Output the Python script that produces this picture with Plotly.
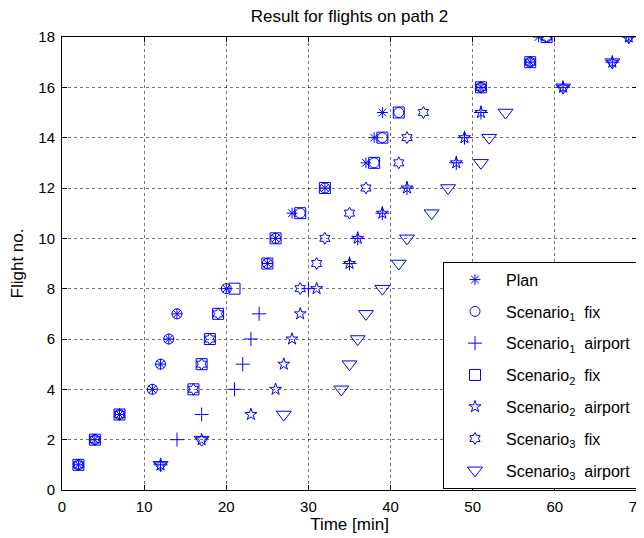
import plotly.graph_objects as go

flights = list(range(1, 19))
plan = [2, 4, 7, 11, 12, 13, 14, 20, 25, 26, 28, 32, 37, 38, 39, 51, 57, 58]
s1_fix = [2, 4, 7, 11, 12, 13, 14, 20, 25, 26, 29, 32, 38, 39, 41, 51, 57, 59]
s1_airport = [12, 14, 17, 21, 22, 23, 24, 30, 35, 36, 39, 42, 48, 49, 51, 61, 67, 69]
s2_fix = [2, 4, 7, 16, 17, 18, 19, 21, 25, 26, 29, 32, 38, 39, 41, 51, 57, 59]
s2_airport = [12, 17, 23, 26, 27, 28, 29, 31, 35, 36, 39, 42, 48, 49, 51, 61, 67, 69]
s3_fix = [2, 4, 7, 16, 17, 18, 19, 29, 31, 32, 35, 37, 41, 42, 44, 51, 57, 59]
s3_airport = [12, 17, 27, 34, 35, 36, 37, 39, 41, 42, 45, 47, 51, 52, 54, 61, 67, 69]

x_ticks = [0, 10, 20, 30, 40, 50, 60, 70]
y_ticks = [0, 2, 4, 6, 8, 10, 12, 14, 16, 18]

NB = "\u00a0\u00a0"
series = [
    ("Plan", plan, "asterisk-open", 9),
    ("Scenario<sub>1</sub>" + NB + "fix", s1_fix, "circle-open", 10),
    ("Scenario<sub>1</sub>" + NB + "airport", s1_airport, "cross-thin-open", 10),
    ("Scenario<sub>2</sub>" + NB + "fix", s2_fix, "square-open", 11),
    ("Scenario<sub>2</sub>" + NB + "airport", s2_airport, "star-open", 9),
    ("Scenario<sub>3</sub>" + NB + "fix", s3_fix, "hexagram-open", 9),
    ("Scenario<sub>3</sub>" + NB + "airport", s3_airport, "triangle-down-open", 13),
]

fig = go.Figure()
for i, (name, xs, sym, sz) in enumerate(series):
    fig.add_trace(go.Scatter(
        x=xs, y=flights, mode="markers", name=name,
        legendgroup=f"g{i}",
        marker=dict(symbol=sym, size=sz, color="rgb(0,0,255)",
                    line=dict(color="rgb(0,0,255)", width=1)),
    ))

axis_common = dict(
    showline=True, linecolor="black", linewidth=1, mirror="ticks",
    ticks="inside", ticklen=5, tickcolor="black",
    showgrid=True, gridcolor="rgba(0,0,0,0.55)", griddash="dot", gridwidth=1,
    zeroline=False, tickfont=dict(size=15, color="black"), automargin=False,
    ticklabelstandoff=3, ticklabeloverflow="allow",
)

fig.update_layout(
    width=636, height=530,
    margin=dict(l=54, r=7, t=29, b=48),
    paper_bgcolor="white", plot_bgcolor="white",
    font=dict(family="Liberation Sans, Arial, sans-serif", color="black", size=15),
    title=dict(text="Result for flights on path 2", x=0.5, xref="paper", xanchor="center",
               y=0.985, yref="container", yanchor="middle", font=dict(size=17)),
    xaxis=dict(range=[0, 70], tickvals=x_ticks,
               title=dict(text="Time [min]", standoff=0, font=dict(size=17)), **axis_common),
    yaxis=dict(range=[0, 18], tickvals=y_ticks,
               title=dict(text="Flight no.", standoff=10, font=dict(size=17)), **axis_common),
    legend=dict(x=1.0, xanchor="right", y=0.003, yanchor="bottom",
                bgcolor="white", bordercolor="black", borderwidth=1,
                font=dict(size=16), tracegroupgap=8, itemwidth=52),
    showlegend=True,
)

fig.write_html("out.html")
